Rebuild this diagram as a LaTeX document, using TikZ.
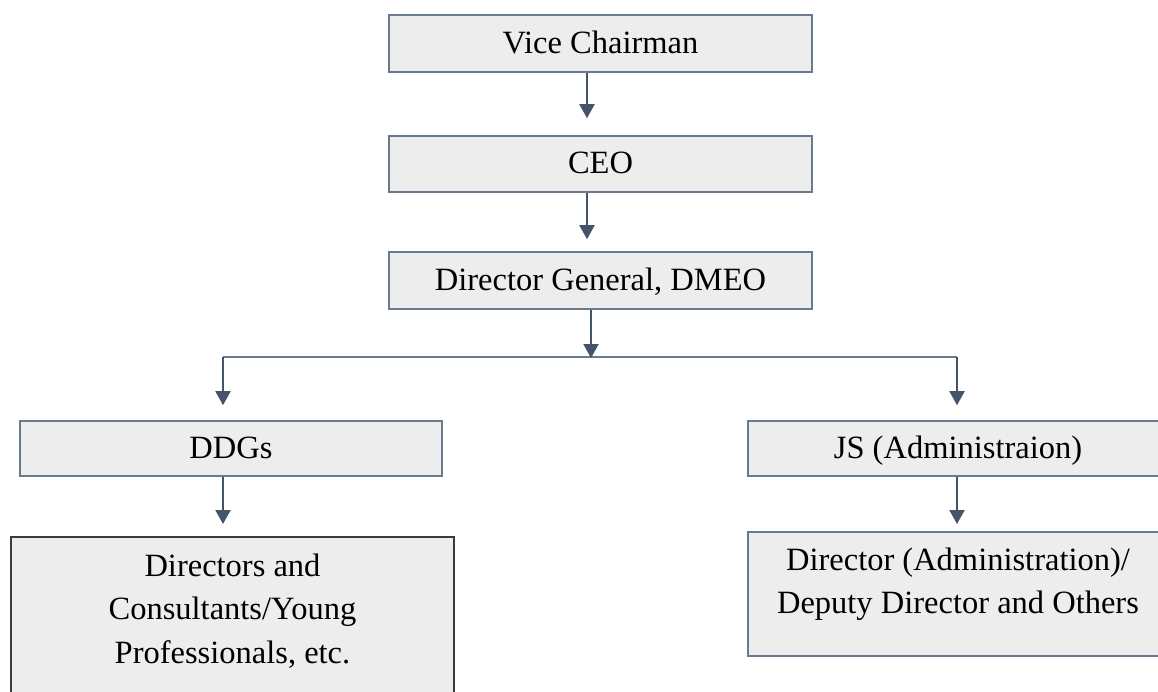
\documentclass[tikz,border=0pt]{standalone}
\usepackage{fontspec}
\setmainfont{Liberation Serif}
\usetikzlibrary{arrows.meta,calc}
\definecolor{boxfill}{HTML}{EDEDED}
\definecolor{boxline}{HTML}{6B7A8F}
\definecolor{arrowc}{HTML}{44546A}
\definecolor{darkline}{HTML}{3A3A3A}
\begin{document}
\begin{tikzpicture}[x=1pt,y=-1pt,
  boxtext/.style={font=\fontsize{32.5}{43.5}\selectfont},
  box/.style={boxtext, draw=boxline, fill=boxfill, line width=1.6pt, inner sep=0pt,
              minimum width=423pt, minimum height=57pt, text height=22pt, text depth=2pt},
  tallbox/.style={boxtext, draw=boxline, fill=boxfill, line width=1.6pt, inner sep=0pt, anchor=north},
  conn/.style={draw=arrowc, line width=2pt, -{Triangle[width=15pt,length=14pt]}},
  bar/.style={draw=boxline, line width=2pt}]
\useasboundingbox (0,0) rectangle (1158,692);
\fill[white] (0,0) rectangle (1158,692);

\node[box] (vc) at (600.5,43.5) {Vice Chairman};
\node[box, minimum height=56pt] (ceo) at (600.5,164) {CEO};
\node[box] (dg) at (600.5,280.5) {Director General, DMEO};
\node[box, minimum width=422pt, minimum height=55pt] (ddg) at (231,448.5) {DDGs};
\node[box, minimum width=420pt, minimum height=55pt] (js) at (958,448.5) {JS (Administraion)};

\node[tallbox, draw=darkline] (dir) at (232.5,536)
  {\begin{minipage}[c][175pt][t]{443pt}\centering\vspace*{17pt}Directors and\\Consultants/Young\\Professionals, etc.\end{minipage}};
\node[tallbox] (adm) at (958,531)
  {\begin{minipage}[c][124pt][t]{420pt}\centering\vspace*{16pt}Director (Administration)/\\Deputy Director and Others\end{minipage}};

\coordinate (bar) at (591,358);

\draw[conn, shorten >=17pt] ($(vc.south)+(-13.5,0)$) -- ($(ceo.north)+(-13.5,0)$);
\draw[conn, shorten >=12pt] ($(ceo.south)+(-13.5,0)$) -- ($(dg.north)+(-13.5,0)$);
\draw[bar] ($(ddg.north)+(-8,-63)$) -- ($(js.north)+(-1,-63)$);
\draw[conn] (dg.south -| bar) -- (bar);
\draw[conn, shorten >=15pt] ($(ddg.north)+(-8,-63)$) -- ($(ddg.north)+(-8,0)$);
\draw[conn, shorten >=15pt] ($(js.north)+(-1,-63)$) -- ($(js.north)+(-1,0)$);
\draw[conn, shorten >=12pt] ($(ddg.south)+(-8,0)$) -- ($(dir.north)+(-9.5,0)$);
\draw[conn, shorten >=7pt] ($(js.south)+(-1,0)$) -- ($(adm.north)+(-1,0)$);
\end{tikzpicture}
\end{document}
